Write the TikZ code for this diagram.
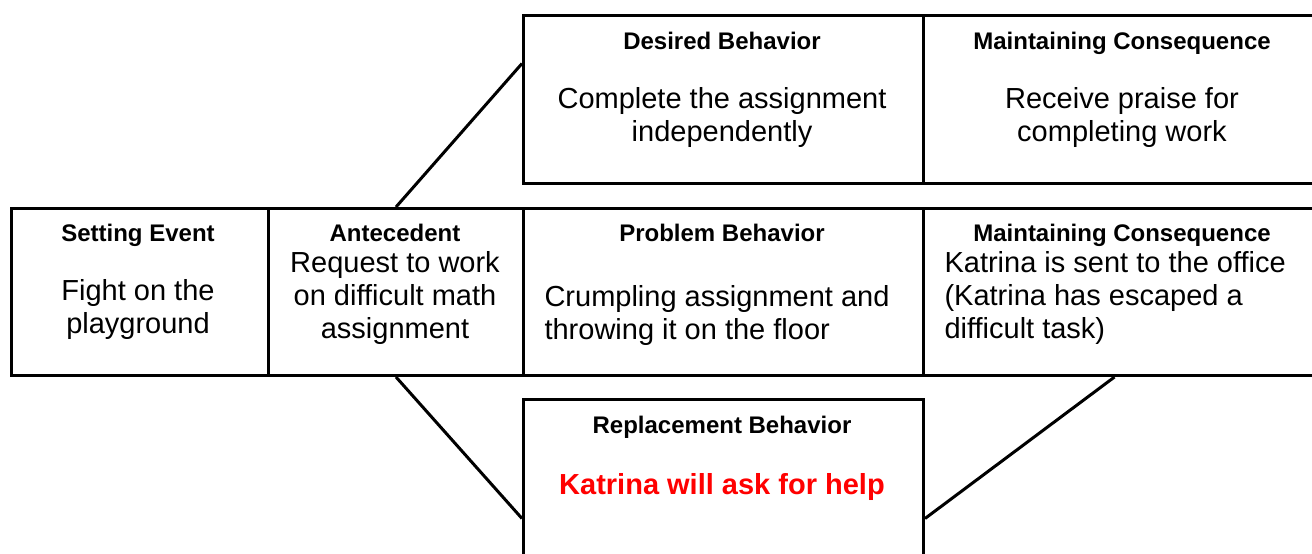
\documentclass[tikz,border=0pt]{standalone}
\usepackage{fontspec}
\setmainfont{Liberation Sans}
\usetikzlibrary{positioning}
\begin{document}
\begin{tikzpicture}[x=1pt, y=-1pt]
    % Define styles
    \tikzset{
        box/.style={
            draw,
            line width=3pt,
            rectangle,
            inner sep=0pt,
            anchor=north west
        },
        title/.style={
            font=\fontsize{24}{28}\selectfont\bfseries,
            anchor=base
        },
        body/.style={
            font=\fontsize{29}{33}\selectfont,
            align=center
        },
        link/.style={
            line width=3pt
        }
    }

    % Canvas
    \useasboundingbox (0,0) rectangle (1312,554);

    % Top row
    \node[box, minimum width=400pt, minimum height=168pt] (desired) at (522,14) {};
    \node[box, minimum width=408pt, minimum height=168pt] (keepgood) at (922,14) {};

    % Middle row
    \node[box, minimum width=257pt, minimum height=167pt] (setting) at (10,207) {};
    \node[box, minimum width=255pt, minimum height=167pt] (antecedent) at (267,207) {};
    \node[box, minimum width=400pt, minimum height=167pt] (problem) at (522,207) {};
    \node[box, minimum width=408pt, minimum height=167pt] (keepbad) at (922,207) {};

    % Bottom row
    \node[box, minimum width=400pt, minimum height=172pt] (replace) at (522,398) {};

    % Texts
    \node[title] (desiredT) at (722,49) {Desired Behavior};
    \node[body] (desiredB) at (722,118) {Complete the assignment\\independently};
    \node[title] (keepgoodT) at (1122,49) {Maintaining Consequence};
    \node[body] (keepgoodB) at (1122,118) {Receive praise for\\completing work};

    \node[title] (settingT) at (138,241) {Setting Event};
    \node[body] (settingB) at (138,309) {Fight on the\\playground};
    \node[title] (antecedentT) at (395,241) {Antecedent};
    \node[body] (antecedentB) at (395,298) {Request to work\\on difficult math\\assignment};
    \node[title] (problemT) at (722,241) {Problem Behavior};
    \node[body, align=left, anchor=west] (problemB) at (541,315) {Crumpling assignment and\\throwing it on the floor};
    \node[title] (keepbadT) at (1122,241) {Maintaining Consequence};
    \node[body, align=left, anchor=west] (keepbadB) at (941,298) {Katrina is sent to the office\\(Katrina has escaped a\\difficult task)};

    \node[title] (replaceT) at (722,433) {Replacement Behavior};
    \node[title, font=\fontsize{29}{33}\selectfont\bfseries, red] (replaceB) at (722,494) {Katrina will ask for help};

    % Connectors
    \draw[link] (antecedent.north) -- ([yshift=36pt]desired.west);
    \draw[link] (antecedent.south) -- ([yshift=-33pt]replace.west);
    \draw[link] ([xshift=-13pt]keepbad.south) -- ([yshift=-33pt]replace.east);
\end{tikzpicture}
\end{document}
